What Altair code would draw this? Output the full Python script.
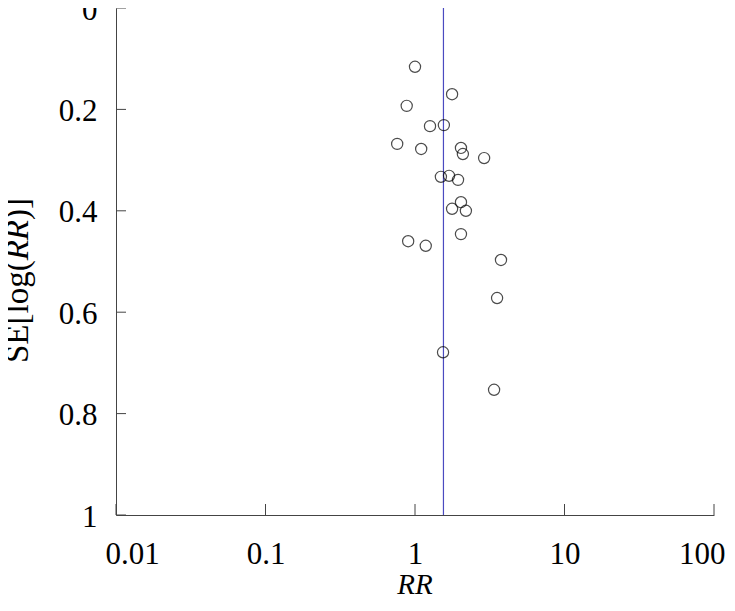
import altair as alt
import pandas as pd

# Study-level estimates
rr = [1.00, 1.77, 0.88, 1.26, 1.56, 0.76, 1.10, 2.03, 2.09, 2.90, 1.49, 1.69,
      1.94, 2.03, 1.77, 2.19, 2.03, 0.90, 1.18, 3.76, 3.54, 1.54, 3.38]
se = [0.116, 0.170, 0.193, 0.233, 0.231, 0.268, 0.278, 0.276, 0.288, 0.296, 0.333, 0.331,
      0.339, 0.383, 0.396, 0.400, 0.446, 0.460, 0.469, 0.497, 0.572, 0.679, 0.753]
pooled_rr = [1.55]
x_ticks = [0.01, 0.1, 1, 10, 100]
y_ticks = [0, 0.2, 0.4, 0.6, 0.8, 1]

W, H = 598, 507
FONT = "Liberation Serif"
AXIS_COLOR = "#444444"

pts = pd.DataFrame({"RR": rr, "SE": se})
pooled = pd.DataFrame({"RR": pooled_rr})
xt = pd.DataFrame({"v": x_ticks})
yt = pd.DataFrame({"v": y_ticks})

xscale = alt.Scale(type="log", domain=[0.01, 100], nice=False)
yscale = alt.Scale(domain=[0, 1], reverse=True, nice=False)

points = alt.Chart(pts).mark_point(
    shape="circle", filled=False, color="black", size=125, strokeWidth=1.2
).encode(
    x=alt.X("RR:Q", scale=xscale,
            axis=alt.Axis(values=x_ticks, format="~g", grid=False, ticks=False,
                          domainColor=AXIS_COLOR, labelFont=FONT, labelFontSize=31,
                          labelColor="black", labelPadding=24, labelFlush=True,
                          labelFlushOffset=11, title=None)),
    y=alt.Y("SE:Q", scale=yscale,
            axis=alt.Axis(values=y_ticks, format="~g", grid=False, ticks=False,
                          domainColor=AXIS_COLOR, labelFont=FONT, labelFontSize=31,
                          labelColor="black", labelPadding=19, labelFlush=False,
                          labelOffset=2, title=None)),
)

vline = alt.Chart(pooled).mark_rule(color="#4a4ac0", strokeWidth=1.2).encode(
    x=alt.X("RR:Q", scale=xscale)
)

xtick_marks = alt.Chart(xt).mark_rule(color=AXIS_COLOR, strokeWidth=1).encode(
    x=alt.X("v:Q", scale=xscale),
    y=alt.value(H - 11), y2=alt.value(H),
)
ytick_marks = alt.Chart(yt).mark_rule(color=AXIS_COLOR, strokeWidth=1).encode(
    y=alt.Y("v:Q", scale=yscale),
    x=alt.value(0), x2=alt.value(10),
)

# x-axis title
xtitle = alt.Chart(pd.DataFrame({"t": ["RR"]})).mark_text(
    font=FONT, fontSize=29, fontStyle="italic", color="black",
    align="center", baseline="alphabetic"
).encode(text="t:N", x=alt.value(W / 2), y=alt.value(586))

# y-axis title with italic RR, built from three pieces
TF = 33
pieces = pd.DataFrame({
    "t": ["SE[log(", "RR", ")]"],
    "off": [0, 3.111 * TF, (3.111 + 1.222) * TF],
})
y_title_base = 355
tscale = alt.Scale(domain=[0, 1], range=[y_title_base, y_title_base - 1])
ytitle_normal = alt.Chart(pieces[pieces.t != "RR"]).mark_text(
    angle=270, align="left", baseline="middle", font=FONT, fontSize=TF, color="black"
).encode(
    text="t:N",
    x=alt.value(-98),
    y=alt.Y("off:Q", scale=tscale, axis=None),
)
ytitle_italic = alt.Chart(pieces[pieces.t == "RR"]).mark_text(
    angle=270, align="left", baseline="middle", font=FONT, fontSize=TF, color="black",
    fontStyle="italic"
).encode(
    text="t:N",
    x=alt.value(-98),
    y=alt.Y("off:Q", scale=tscale, axis=None),
)
ytitle = (ytitle_normal + ytitle_italic).resolve_scale(y="shared")

main = alt.layer(vline, points, xtick_marks, ytick_marks, xtitle)
chart = alt.layer(main, ytitle).resolve_scale(y="independent").properties(
    width=W, height=H,
    autosize=alt.AutoSizeParams(type="none"),
    padding={"left": 108, "top": 0, "right": 11, "bottom": 81},
    background="white",
).configure_view(stroke=None)

chart.save("out.html", embed_options={"renderer": "svg", "actions": False})
